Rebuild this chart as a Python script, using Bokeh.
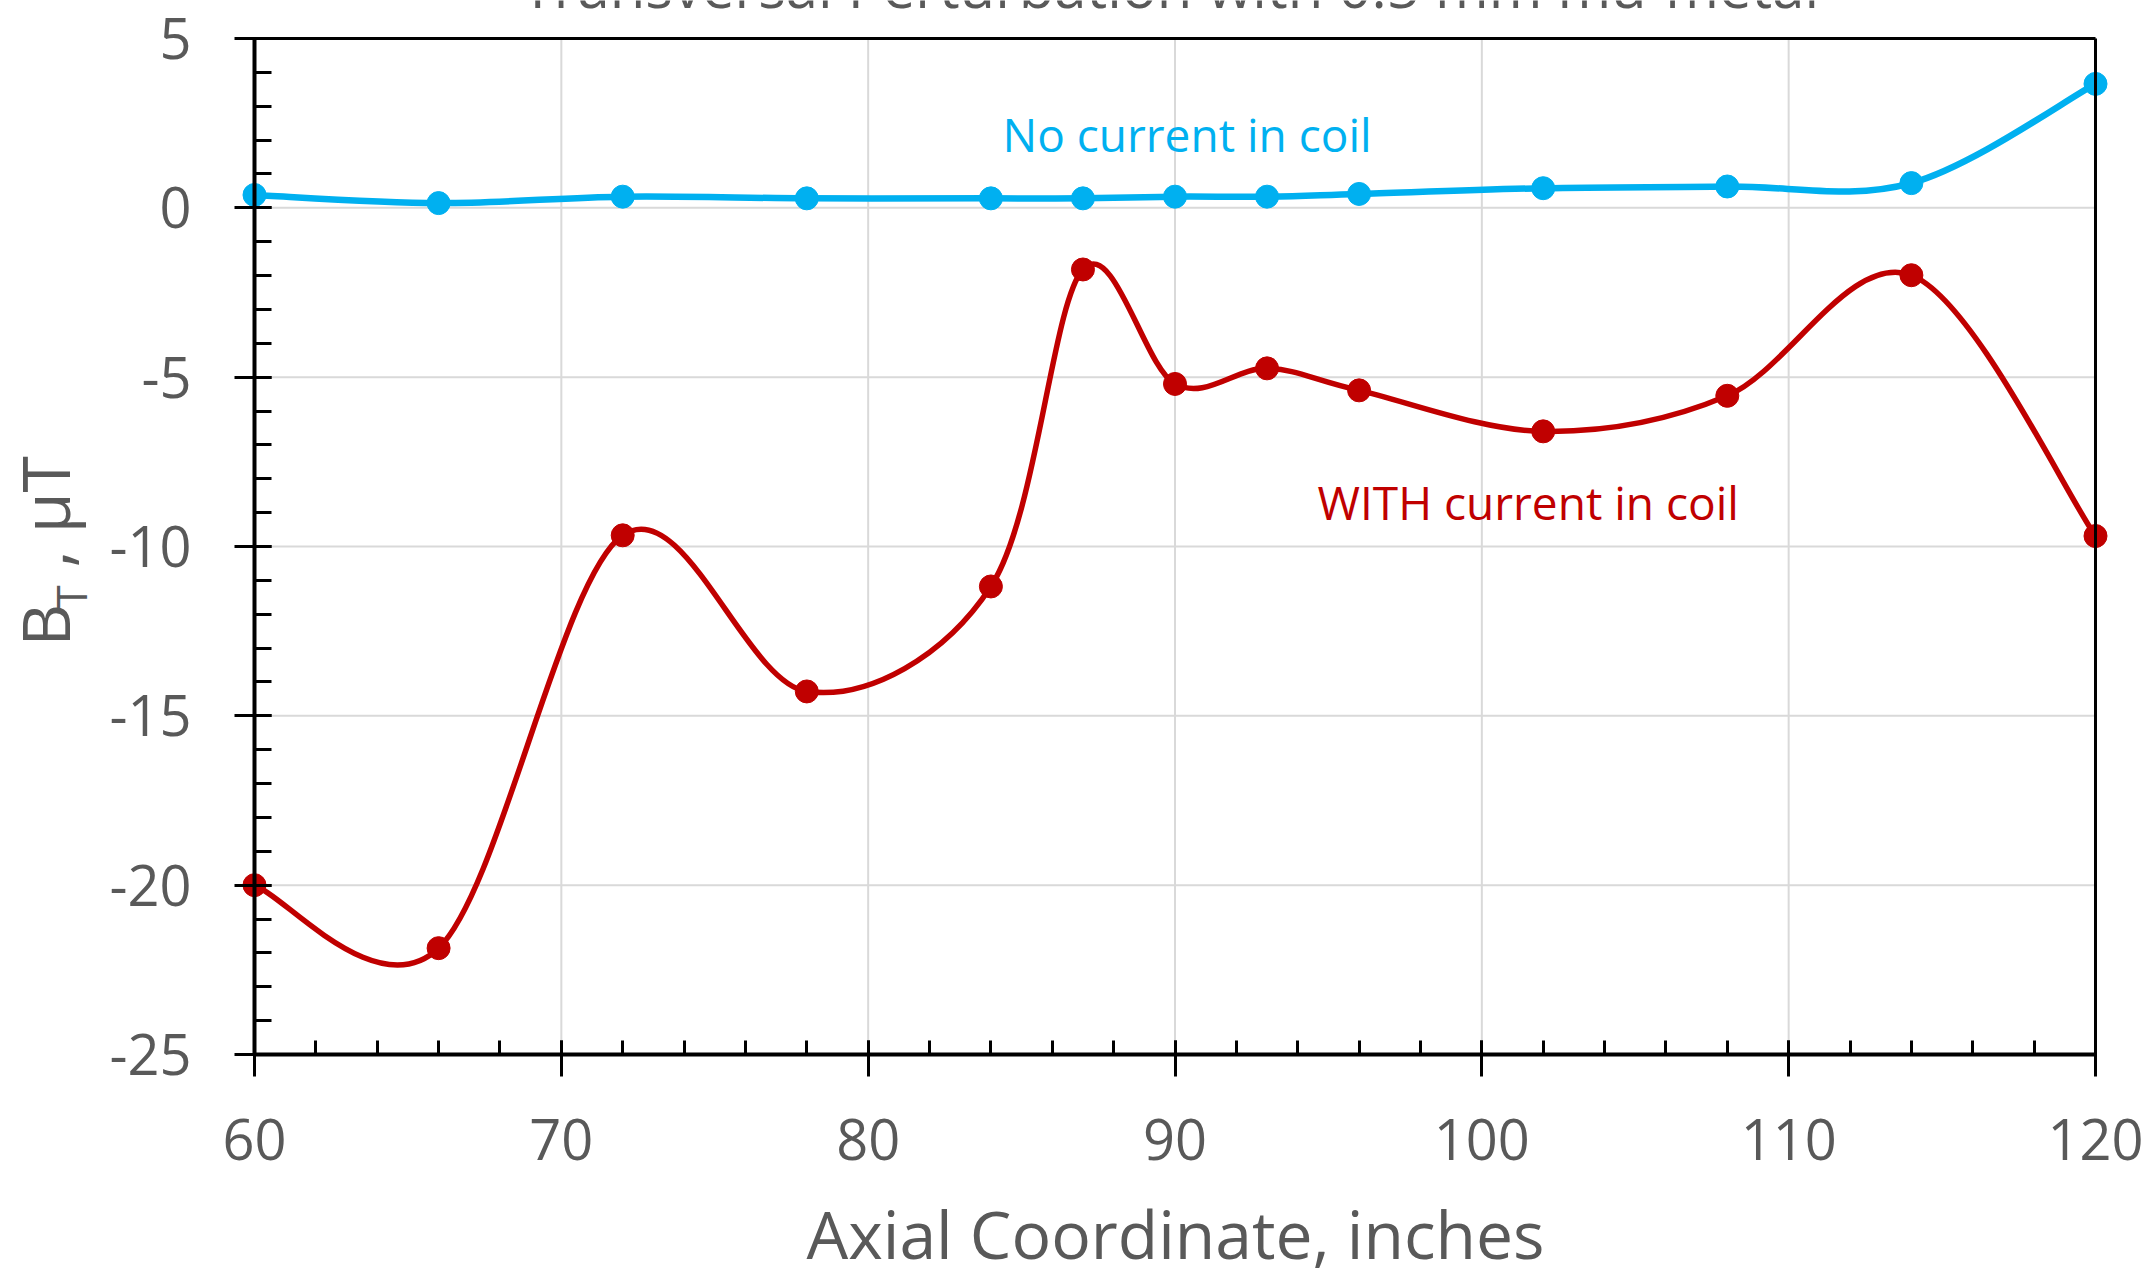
import math
from bokeh.plotting import figure
from bokeh.models import Range1d, FixedTicker, Label, LinearAxis, ColumnDataSource
from bokeh.embed import file_html
from bokeh.resources import INLINE

# ---------------- data ----------------
axial_in = [60, 66, 72, 78, 84, 87, 90, 93, 96, 102, 108, 114, 120]
no_current = [0.38, 0.14, 0.33, 0.28, 0.28, 0.28, 0.33, 0.33, 0.41, 0.58, 0.63, 0.73, 3.66]
with_current = [-20.0, -21.86, -9.67, -14.28, -11.18, -1.82, -5.2, -4.74, -5.39, -6.6, -5.55, -1.99, -9.69]

x_ticks = [60, 70, 80, 90, 100, 110, 120]
x_minor = list(range(60, 121, 2))
y_ticks = [-25, -20, -15, -10, -5, 0, 5]
y_tick_labels = ["-25", "-20", "-15", "-10", "-5", "0", "5"]
y_minor = list(range(-25, 6))

title_text = "Transversal Perturbation with 0.5 mm mu-metal"
x_title = "Axial Coordinate, inches"
note_no = "No current in coil"
note_with = "WITH current in coil"

# ---------------- style ----------------
FONT = "Open Sans"
GREY = "#595959"
BLUE = "#00B0F0"
RED = "#C00000"
GRID = "#D9D9D9"

W, H = 2153, 1278
FL, FR, FT, FB = 254, 2095, 38, 1054          # axes box in pixels
XMIN, XMAX, YMIN, YMAX = 60, 120, -25, 5
PXX = (FR - FL) / (XMAX - XMIN)
PXY = (FB - FT) / (YMAX - YMIN)
BASE_SHIFT = 0.4                               # empirical baseline correction (fraction of font size)


def dx(px):
    return XMIN + (px - FL) / PXX


def dy(py):
    return YMAX - (py - FT) / PXY


def smooth(xs, ys):
    """Excel-style smoothed line: cubic Bezier segments with Catmull-Rom control points."""
    n = len(xs)
    d = {k: [] for k in ("x0", "y0", "x1", "y1", "cx0", "cy0", "cx1", "cy1")}
    for i in range(n - 1):
        a, b = max(i - 1, 0), min(i + 2, n - 1)
        d["x0"].append(xs[i]); d["y0"].append(ys[i])
        d["x1"].append(xs[i + 1]); d["y1"].append(ys[i + 1])
        d["cx0"].append(xs[i] + (xs[i + 1] - xs[a]) / 6)
        d["cy0"].append(ys[i] + (ys[i + 1] - ys[a]) / 6)
        d["cx1"].append(xs[i + 1] - (xs[b] - xs[i]) / 6)
        d["cy1"].append(ys[i + 1] - (ys[b] - ys[i]) / 6)
    return ColumnDataSource(d)


# frame covers the whole canvas; the axes are pinned at the data box edges
p = figure(width=W, height=H,
           x_range=Range1d(dx(0), dx(W)), y_range=Range1d(dy(H), dy(0)),
           output_backend="svg", toolbar_location=None,
           x_axis_location=None, y_axis_location=None,
           min_border_left=0, min_border_right=0, min_border_top=0, min_border_bottom=0,
           outline_line_color=None, background_fill_color="white", border_fill_color="white")
p.grid.visible = False

# ---------------- grid lines (from the tick arrays) ----------------
p.segment(x0=x_ticks, x1=x_ticks, y0=[YMIN] * len(x_ticks), y1=[YMAX] * len(x_ticks),
          line_color=GRID, line_width=2)
p.segment(x0=[XMIN] * len(y_ticks), x1=[XMAX] * len(y_ticks), y0=y_ticks, y1=y_ticks,
          line_color=GRID, line_width=2)

# ---------------- axes ----------------
xa = LinearAxis(ticker=FixedTicker(ticks=x_ticks, minor_ticks=x_minor),
                fixed_location=YMIN, bounds=(XMIN, XMAX),
                axis_line_color="black", axis_line_width=4,
                major_tick_line_color="black", major_tick_line_width=3,
                major_tick_in=14, major_tick_out=22,
                minor_tick_line_color="black", minor_tick_line_width=3,
                minor_tick_in=14, minor_tick_out=0,
                major_label_text_font=FONT, major_label_text_font_size="56px",
                major_label_text_color=GREY, major_label_standoff=42)
p.add_layout(xa, "below")

ya = LinearAxis(ticker=FixedTicker(ticks=y_ticks, minor_ticks=y_minor),
                fixed_location=XMIN, bounds=(YMIN, YMAX),
                major_label_overrides=dict(zip(y_ticks, y_tick_labels)),
                axis_line_color="black", axis_line_width=4,
                major_tick_line_color="black", major_tick_line_width=3,
                major_tick_in=17, major_tick_out=20,
                minor_tick_line_color="black", minor_tick_line_width=3,
                minor_tick_in=17, minor_tick_out=0,
                major_label_text_font=FONT, major_label_text_font_size="56px",
                major_label_text_color=GREY, major_label_standoff=43)
p.add_layout(ya, "left")

# frame border lines on top and right
top_ax = LinearAxis(ticker=FixedTicker(ticks=[]), bounds=(XMIN, XMAX), fixed_location=YMAX,
                    axis_line_color="black", axis_line_width=3,
                    major_tick_out=0, major_tick_in=0, minor_tick_out=0, minor_tick_in=0)
p.add_layout(top_ax, "above")
right_ax = LinearAxis(ticker=FixedTicker(ticks=[]), bounds=(YMIN, YMAX), fixed_location=XMAX,
                      axis_line_color="black", axis_line_width=3,
                      major_tick_out=0, major_tick_in=0, minor_tick_out=0, minor_tick_in=0)
p.add_layout(right_ax, "right")

# ---------------- series ----------------
p.bezier(x0="x0", y0="y0", x1="x1", y1="y1", cx0="cx0", cy0="cy0", cx1="cx1", cy1="cy1",
         source=smooth(axial_in, with_current), line_color=RED, line_width=5.5)
p.scatter(axial_in, with_current, marker="circle", size=23, fill_color=RED, line_color=RED)

p.bezier(x0="x0", y0="y0", x1="x1", y1="y1", cx0="cx0", cy0="cy0", cx1="cx1", cy1="cy1",
         source=smooth(axial_in, no_current), line_color=BLUE, line_width=6.5)
p.scatter(axial_in, no_current, marker="circle", size=23, fill_color=BLUE, line_color=BLUE)

# ---------------- texts ----------------
def lab(text, px, py, size, color=GREY, align="left", rotated=False):
    s = BASE_SHIFT * size
    if rotated:
        px, py, angle = px - s, py, math.pi / 2
    else:
        px, py, angle = px, py - s, 0.0
    p.add_layout(Label(x=dx(px), y=dy(py), text=text, text_font=FONT,
                       text_font_size=f"{size}px", text_color=color, text_align=align,
                       text_baseline="alphabetic", angle=angle))

lab(title_text, 1170, 8, 58, align="center")
lab(x_title, 1175, 1259, 66, align="center")
lab("B", 70, 646, 66, rotated=True)
lab("T", 87, 608, 42, rotated=True)
lab(", \u00b5T", 70, 567, 66, rotated=True)
lab(note_no, 1002, 152, 46, color=BLUE)
lab(note_with, 1317, 520, 46, color=RED)

open("out.html", "w").write(file_html(p, INLINE))
